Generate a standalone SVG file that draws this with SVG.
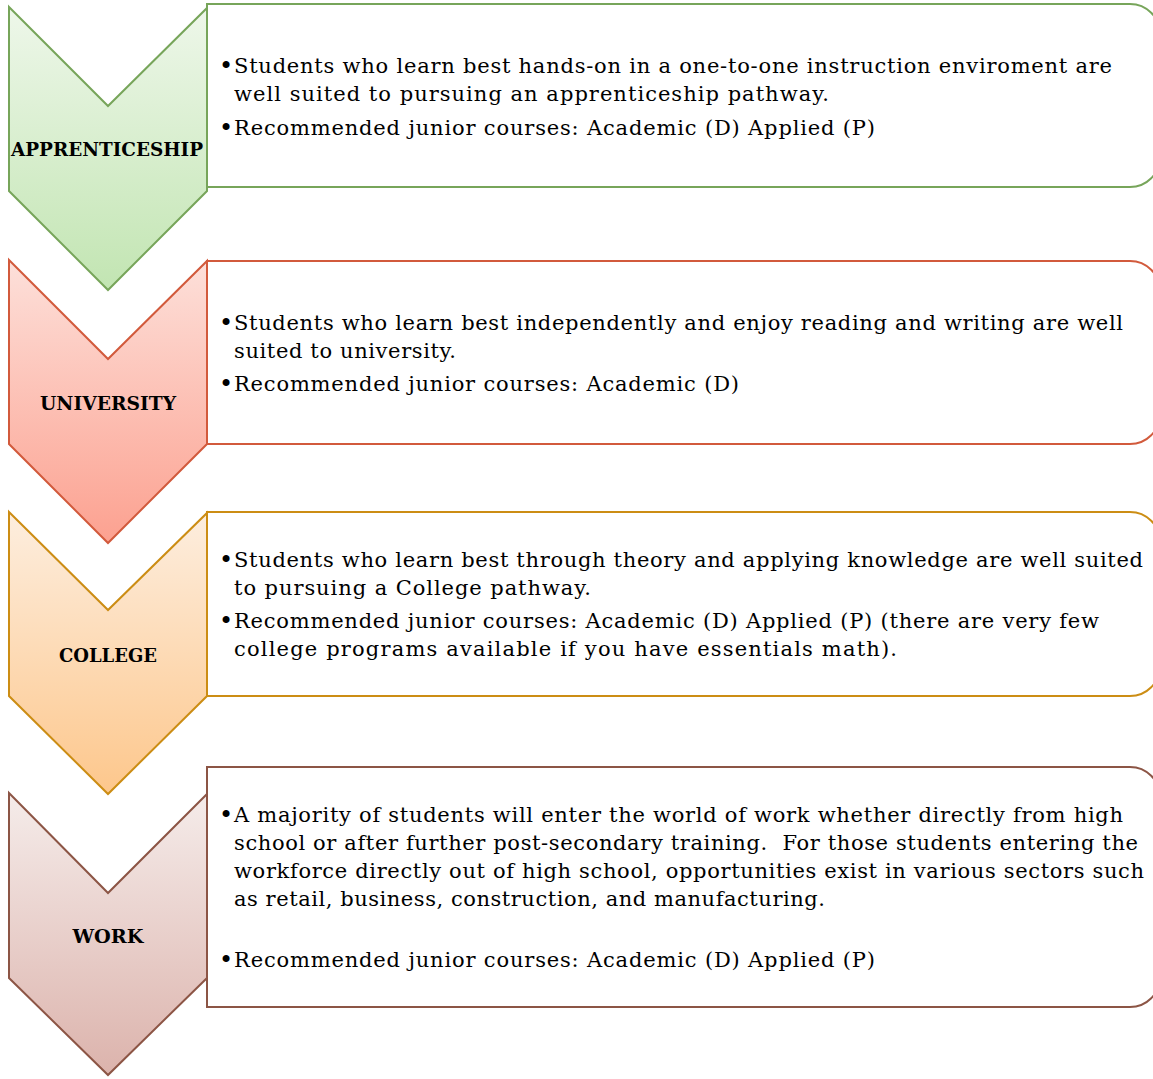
<svg xmlns="http://www.w3.org/2000/svg" width="1153" height="1079" viewBox="0 0 1153 1079">
<defs>
<linearGradient id="gG" x1="0" y1="0" x2="0" y2="1"><stop offset="0" stop-color="#eef7ea"/><stop offset="1" stop-color="#c2e5b2"/></linearGradient>
<linearGradient id="gR" x1="0" y1="0" x2="0" y2="1"><stop offset="0" stop-color="#fde0da"/><stop offset="1" stop-color="#fca190"/></linearGradient>
<linearGradient id="gO" x1="0" y1="0" x2="0" y2="1"><stop offset="0" stop-color="#fdeedf"/><stop offset="1" stop-color="#fdc78c"/></linearGradient>
<linearGradient id="gB" x1="0" y1="0" x2="0" y2="1"><stop offset="0" stop-color="#f5ecea"/><stop offset="1" stop-color="#dcb3ac"/></linearGradient>
</defs>
<style>
.box{fill:#fff;stroke-width:2}
.chev{stroke-width:2;stroke-linejoin:miter}
.lbl{font-family:"DejaVu Serif","Liberation Serif",serif;font-weight:bold;font-size:18px;fill:#000;text-anchor:middle}
.t{font-family:"DejaVu Serif","Liberation Serif",serif;font-size:21px;fill:#000}
.bul{font-family:"DejaVu Serif","Liberation Serif",serif;font-size:24px;fill:#000}
.g{stroke:#77a55a}.r{stroke:#d25a3c}.o{stroke:#cc8d14}.b{stroke:#8c5545}
</style>
<g id="connectors"></g>
<g id="apprenticeship">
<path class="box g" d="M207,4 H1130 A30,30 0 0 1 1160,34 V157 A30,30 0 0 1 1130,187 H207 Z"/>
<path class="chev g" fill="url(#gG)" d="M9,7 L108,106 L207,8 L207,191 L108,290 L9,191 Z"/>
<text class="lbl" x="107" y="156" textLength="192" lengthAdjust="spacingAndGlyphs">APPRENTICESHIP</text>
<text class="bul" x="219" y="74">•</text>
<text class="t" x="234" y="73" textLength="878" lengthAdjust="spacing">Students who learn best hands-on in a one-to-one instruction enviroment are</text>
<text class="t" x="234" y="101" textLength="595" lengthAdjust="spacing">well suited to pursuing an apprenticeship pathway.</text>
<text class="bul" x="219" y="136">•</text>
<text class="t" x="234" y="135" textLength="641" lengthAdjust="spacing">Recommended junior courses: Academic (D) Applied (P)</text>
</g>
<g id="university">
<path class="box r" d="M207,261 H1130 A30,30 0 0 1 1160,291 V414 A30,30 0 0 1 1130,444 H207 Z"/>
<path class="chev r" fill="url(#gR)" d="M9,260 L108,359 L207,261 L207,444 L108,543 L9,444 Z"/>
<text class="lbl" x="108" y="410" textLength="136" lengthAdjust="spacingAndGlyphs">UNIVERSITY</text>
<text class="bul" x="219" y="331">•</text>
<text class="t" x="234" y="330" textLength="889" lengthAdjust="spacing">Students who learn best independently and enjoy reading and writing are well</text>
<text class="t" x="234" y="358" textLength="222" lengthAdjust="spacing">suited to university.</text>
<text class="bul" x="219" y="392">•</text>
<text class="t" x="234" y="391" textLength="505" lengthAdjust="spacing">Recommended junior courses: Academic (D)</text>
</g>
<g id="college">
<path class="box o" d="M207,512 H1130 A30,30 0 0 1 1160,542 V666 A30,30 0 0 1 1130,696 H207 Z"/>
<path class="chev o" fill="url(#gO)" d="M9,512 L108,610 L207,513 L207,696 L108,794 L9,696 Z"/>
<text class="lbl" x="108" y="662" textLength="98" lengthAdjust="spacingAndGlyphs">COLLEGE</text>
<text class="bul" x="219" y="568">•</text>
<text class="t" x="234" y="567" textLength="909" lengthAdjust="spacing">Students who learn best through theory and applying knowledge are well suited</text>
<text class="t" x="234" y="595" textLength="357" lengthAdjust="spacing">to pursuing a College pathway.</text>
<text class="bul" x="219" y="629">•</text>
<text class="t" x="234" y="628" textLength="865" lengthAdjust="spacing">Recommended junior courses: Academic (D) Applied (P) (there are very few</text>
<text class="t" x="234" y="656" textLength="663" lengthAdjust="spacing">college programs available if you have essentials math).</text>
</g>
<g id="work">
<path class="box b" d="M207,767 H1130 A30,30 0 0 1 1160,797 V977 A30,30 0 0 1 1130,1007 H207 Z"/>
<path class="chev b" fill="url(#gB)" d="M9,793 L108,893 L207,794 L207,978 L108,1075 L9,978 Z"/>
<text class="lbl" x="108" y="943" textLength="71" lengthAdjust="spacingAndGlyphs">WORK</text>
<text class="bul" x="219" y="823">•</text>
<text class="t" x="234" y="822" textLength="889" lengthAdjust="spacing">A majority of students will enter the world of work whether directly from high</text>
<text class="t" x="234" y="850" textLength="904" lengthAdjust="spacing" xml:space="preserve">school or after further post-secondary training.  For those students entering the</text>
<text class="t" x="234" y="878" textLength="910" lengthAdjust="spacing">workforce directly out of high school, opportunities exist in various sectors such</text>
<text class="t" x="234" y="906" textLength="591" lengthAdjust="spacing">as retail, business, construction, and manufacturing.</text>
<text class="bul" x="219" y="968">•</text>
<text class="t" x="234" y="967" textLength="641" lengthAdjust="spacing">Recommended junior courses: Academic (D) Applied (P)</text>
</g>
</svg>
